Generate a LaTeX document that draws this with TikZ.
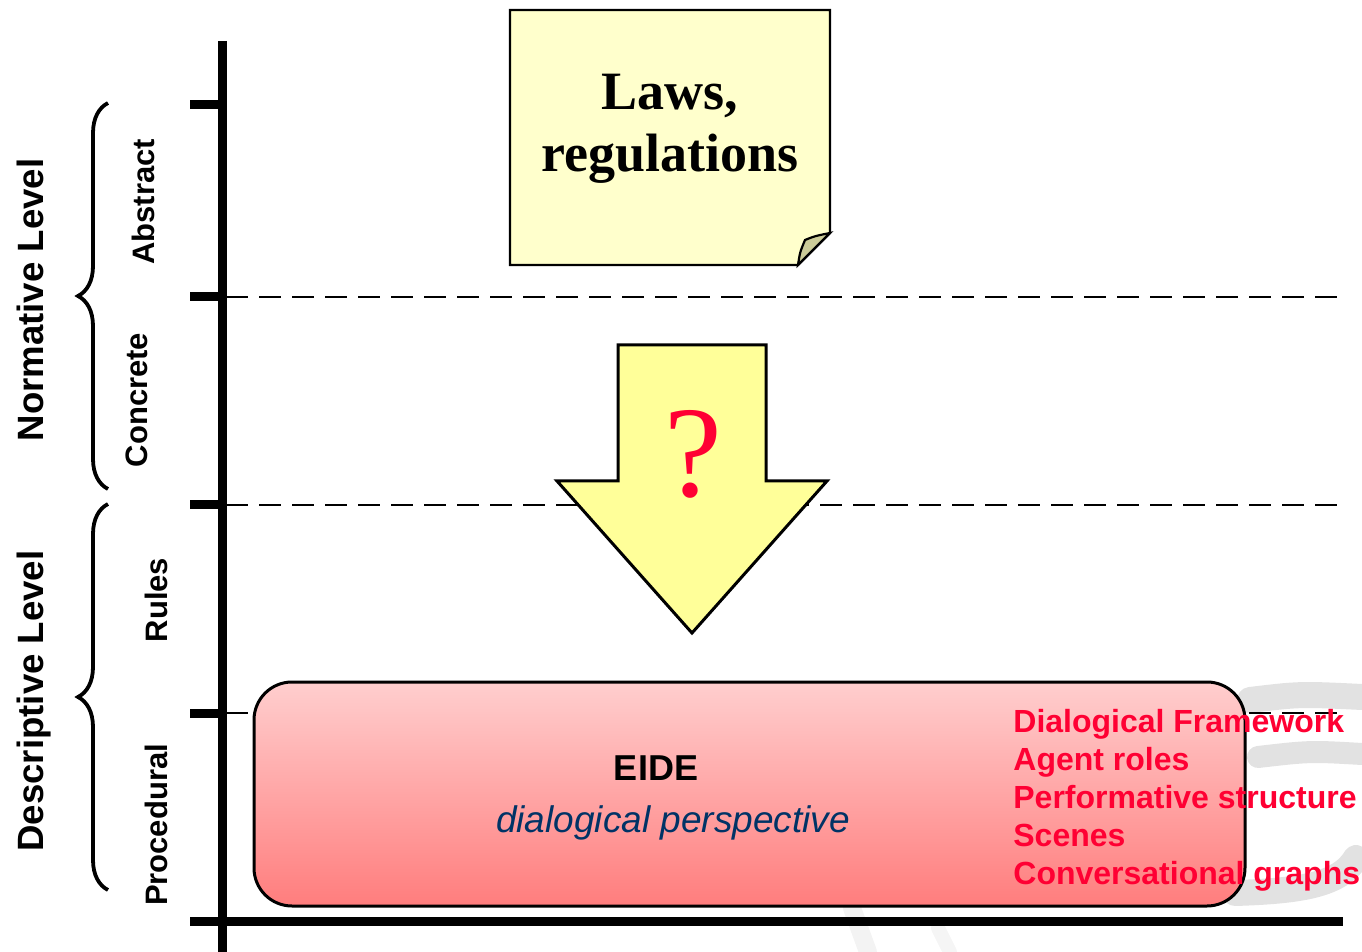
\documentclass[tikz,border=0pt]{standalone}
\usepackage{fontspec}
\setmainfont{Liberation Serif}
\setsansfont{Liberation Sans}
\usetikzlibrary{decorations.pathreplacing}

\definecolor{noteyellow}{RGB}{255,255,204}
\definecolor{notefold}{RGB}{204,204,153}
\definecolor{arrowyellow}{RGB}{255,255,153}
\definecolor{boxtop}{RGB}{255,206,206}
\definecolor{boxbottom}{RGB}{255,125,125}
\definecolor{listred}{RGB}{255,0,51}
\definecolor{persblue}{RGB}{0,51,102}
\definecolor{wmgray}{RGB}{226,226,226}

\begin{document}
\begin{tikzpicture}[x=0.5pt,y=-0.5pt,
  axisline/.style={line width=4.5pt},
  tickmark/.style={line width=4.5pt},
  levelline/.style={line width=1.3pt, dash pattern=on 11pt off 5.5pt},
  levellabel/.style={font=\sffamily\bfseries\fontsize{18.3}{22}\selectfont,
    rotate=90, anchor=base, inner sep=0pt},
  sublabel/.style={font=\sffamily\bfseries\fontsize{15.5}{18}\selectfont,
    rotate=90, anchor=base, inner sep=0pt},
  levelbrace/.style={decorate, decoration={brace, amplitude=15pt, aspect=0.5},
    line width=1.9pt},
  lawtext/.style={font=\rmfamily\bfseries\fontsize{27}{31}\selectfont,
    anchor=base, inner sep=0pt},
  itemtext/.style={font=\sffamily\bfseries\fontsize{16}{19}\selectfont,
    text=listred, anchor=base west, inner sep=0pt},
  watermark/.style={draw=wmgray, line cap=round}
]
\useasboundingbox (0,0) rectangle (1362,952);

% faint background strokes
\draw[watermark, line width=13pt] (1250,700) .. controls (1300,694) .. (1362,697);
\draw[watermark, line width=11pt] (1258,757) .. controls (1310,751) .. (1362,754);
\draw[watermark, line width=13pt] (1235,893) .. controls (1300,891) and (1340,885) .. (1356,858);
\draw[watermark, line width=9pt, draw opacity=0.4] (852,908) -- (868,952);
\draw[watermark, line width=7pt, draw opacity=0.35] (938,928) -- (950,952);

% level separators
\foreach \y in {297,505,713}
  \draw[levelline] (226,\y) -- (1343,\y);

% axes and ticks
\draw[axisline] (222,41) -- (222,952);
\draw[axisline] (190,921) -- (1343,921);
\foreach \y in {105,297,505,713}
  \draw[tickmark] (190,\y) -- (222,\y);

% braces
\draw[levelbrace] (108,489) -- (108,103);
\draw[levelbrace] (108,890) -- (108,504);

% level labels
\node[levellabel] (normative) at (43,300) {Normative Level};
\node[levellabel] (descriptive) at (43,701) {Descriptive Level};
\node[sublabel] (abstract) at (154,202) {Abstract};
\node[sublabel] (concrete) at (147,400) {Concrete};
\node[sublabel] (rules) at (167,600) {Rules};
\node[sublabel] (procedural) at (167,825) {Procedural};

% sticky note
\draw[line width=1.1pt, fill=noteyellow]
  (510,10) -- (830,10) -- (830,233) -- (798,265) -- (510,265) -- cycle;
\draw[line width=1.1pt, fill=notefold]
  (798,265) .. controls (800,252) .. (805,240) .. controls (815,236) .. (830,233) -- cycle;
\node[lawtext] (laws) at (670,110) {Laws,};
\node[lawtext] (regulations) at (670,172) {regulations};

% downward arrow
\draw[line width=1.5pt, fill=arrowyellow, line join=miter]
  (618,345) -- (766,345) -- (766,481) -- (827,481) -- (692,633)
  -- (557,481) -- (618,481) -- cycle;
\node[anchor=base, inner sep=0pt, text=listred,
  font=\rmfamily\fontsize{65}{70}\selectfont] (question) at (693,497) {?};

% EIDE box
\draw[line width=1.5pt, rounded corners=19pt, top color=boxtop, bottom color=boxbottom]
  (254,682) rectangle (1245,906);
\node[anchor=base, inner sep=0pt, font=\sffamily\bfseries\fontsize{18}{22}\selectfont]
  (eide) at (656,780) {EIDE};
\node[anchor=base, inner sep=0pt, text=persblue,
  font=\sffamily\itshape\fontsize{18.5}{22}\selectfont]
  (perspective) at (673,832) {dialogical perspective};

% EIDE components
\node[itemtext] (framework) at (1013,732) {Dialogical Framework};
\node[itemtext] (roles) at (1013,770) {Agent roles};
\node[itemtext] (performative) at (1013,808) {Performative structure};
\node[itemtext] (scenes) at (1013,846) {Scenes};
\node[itemtext] (graphs) at (1013,884) {Conversational graphs};
\end{tikzpicture}
\end{document}
